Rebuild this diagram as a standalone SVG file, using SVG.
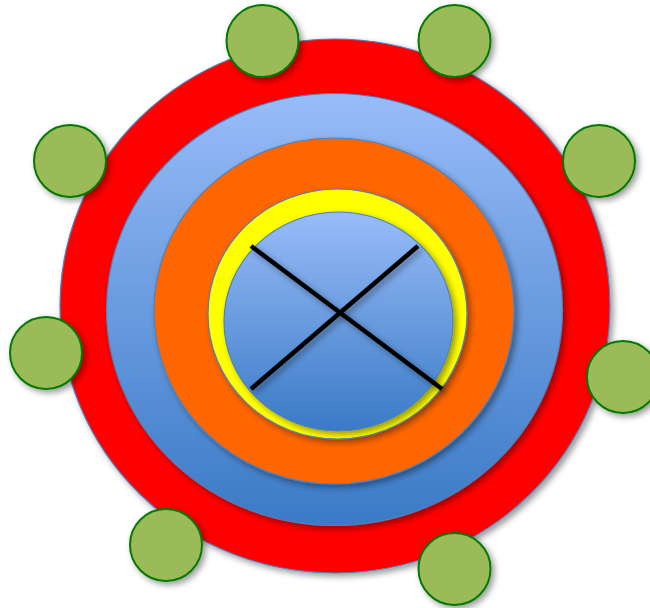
<svg xmlns="http://www.w3.org/2000/svg" width="650" height="608" viewBox="0 0 650 608">
<defs>
<linearGradient id="blueGrad" x1="0" y1="0" x2="0" y2="1">
<stop offset="0" stop-color="#98BCF8"/>
<stop offset="1" stop-color="#3A7AC6"/>
</linearGradient>
<filter id="shadow" x="-20%" y="-20%" width="140%" height="140%">
<feDropShadow dx="3" dy="3" stdDeviation="3" flood-color="#000" flood-opacity="0.4"/>
</filter>
</defs>
<style>
.ring{stroke:#4F81BD;stroke-width:1.2;filter:url(#shadow)}
.red{fill:#FF0000}
.blue{fill:url(#blueGrad)}
.orange{fill:#FF6600}
.yellow{fill:#FFFF00}
.node{fill:#9BBB59;stroke:#067A06;stroke-width:2;filter:url(#shadow)}
.cross{stroke:#000;stroke-width:4.5;stroke-linecap:butt;filter:url(#shadow)}
</style>
<g id="red-ring"><ellipse class="ring red" cx="335" cy="306" rx="275" ry="267"/></g>
<g id="blue-ring"><ellipse class="ring blue" cx="334.5" cy="309.5" rx="228" ry="216"/></g>
<g id="orange-ring"><ellipse class="ring orange" cx="334" cy="311" rx="180" ry="173"/></g>
<g id="yellow-ring"><ellipse class="ring yellow" cx="337.5" cy="314" rx="129.5" ry="125"/></g>
<g id="core"><ellipse class="ring blue" cx="338.5" cy="321.5" rx="114.5" ry="109.5"/></g>
<g id="connectors">
<line class="cross" x1="251" y1="246" x2="442" y2="389"/>
<line class="cross" x1="418" y1="246" x2="251" y2="389"/>
</g>
<g id="n1"><circle class="node" cx="262.5" cy="41" r="36"/></g>
<g id="n2"><circle class="node" cx="454.5" cy="41" r="36"/></g>
<g id="n3"><circle class="node" cx="70" cy="161" r="36"/></g>
<g id="n4"><circle class="node" cx="599" cy="161" r="36"/></g>
<g id="n5"><circle class="node" cx="46" cy="353" r="36"/></g>
<g id="n6"><circle class="node" cx="623" cy="377" r="36"/></g>
<g id="n7"><circle class="node" cx="166" cy="545" r="36"/></g>
<g id="n8"><circle class="node" cx="454.5" cy="569" r="36"/></g>
</svg>
